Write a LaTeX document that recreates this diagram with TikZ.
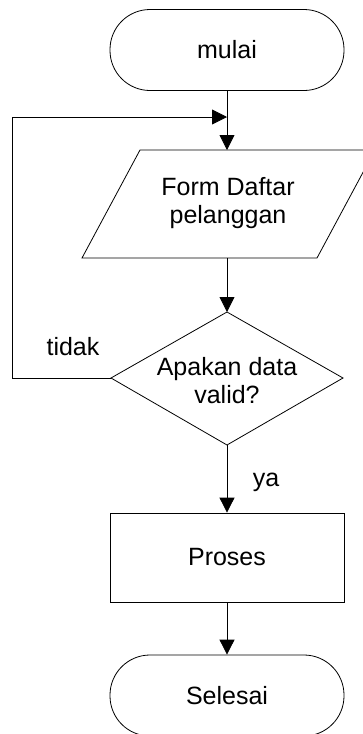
\documentclass[tikz,border=0pt]{standalone}
\usepackage{fontspec}
\setmainfont{Liberation Sans}
\usetikzlibrary{arrows.meta}
\begin{document}
\begin{tikzpicture}[x=1pt,y=-1pt,line width=0.8pt,
  font=\fontsize{25}{28}\selectfont,
  >={Triangle[length=15pt,width=15pt]},
  term/.style={draw,minimum width=234pt,minimum height=81pt,rounded corners=40pt,inner sep=0pt},
  procbox/.style={draw,minimum width=234pt,minimum height=89pt,inner sep=0pt},
  txt/.style={align=center,inner sep=0pt}]
\useasboundingbox (0,0) rectangle (363,734);
\clip (0,0) rectangle (363,734);

% start terminal
\node[term] (start) at (227,50) {mulai};

% input parallelogram
\coordinate (formTL) at (140,150);
\coordinate (formTR) at (375,150);
\coordinate (formBR) at (317,258);
\coordinate (formBL) at (82,258);
\coordinate (formtop) at (227,150);
\coordinate (formbot) at (227,258);
\draw (formTL) -- (formTR) -- (formBR) -- (formBL) -- cycle;
\node[txt] (form) at (228,203) {Form Daftar\\pelanggan};

% decision diamond
\coordinate (decT) at (227,312);
\coordinate (decL) at (111,378);
\coordinate (decR) at (343,378);
\coordinate (decB) at (227,445);
\draw (decT) -- (decR) -- (decB) -- (decL) -- cycle;
\node[txt] (dec) at (227,381) {Apakan data\\valid?};

% process and end
\node[procbox] (proc) at (227,557.5) {Proses};
\node[term] (finish) at (227,695.5) {Selesai};

% loop back corner points
\coordinate (join) at (227,117);
\coordinate (loopA) at (12,378);
\coordinate (loopB) at (12,117);

% connectors
\draw (start.south) -- (join);
\draw[->] (join) -- (formtop);
\draw[->] (formbot) -- (decT);
\draw[->] (decL) -- (loopA) -- (loopB) -- (join);
\draw[->] (decB) -- (proc.north);
\draw[->] (proc.south) -- (finish.north);

% branch labels
\node[txt] (lblno) at (73,347) {tidak};
\node[txt] (lblyes) at (266,482) {ya};
\end{tikzpicture}
\end{document}
